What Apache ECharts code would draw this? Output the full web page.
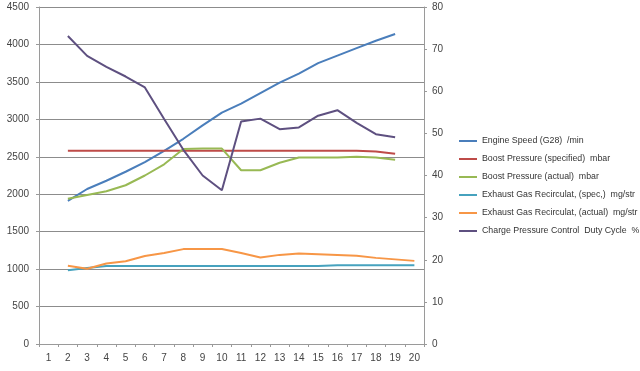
<!DOCTYPE html>
<html><head><meta charset="utf-8">
<script src="https://cdn.jsdelivr.net/npm/echarts@6/dist/echarts.min.js"></script>
<style>html,body{margin:0;padding:0;background:#fff}#c{width:640px;height:371px}</style>
</head><body><div id="c"></div>
<script>
const categories = ['1','2','3','4','5','6','7','8','9','10','11','12','13','14','15','16','17','18','19','20'];
const engineSpeed = [null,1910,2070,2180,2300,2430,2580,2740,2920,3090,3210,3350,3490,3610,3750,3850,3950,4050,4140,null];
const boostSpecified = [null,2580,2580,2580,2580,2580,2580,2580,2580,2580,2580,2580,2580,2580,2580,2580,2580,2570,2540,null];
const boostActual = [null,1940,1990,2040,2120,2250,2400,2605,2610,2610,2320,2320,2420,2490,2490,2490,2500,2490,2460,null];
const egrSpec = [null,985,1015,1040,1040,1040,1040,1040,1040,1040,1040,1040,1040,1040,1040,1050,1050,1050,1050,1050];
const egrActual = [null,1045,1005,1075,1105,1175,1215,1267,1268,1268,1215,1156,1190,1210,1200,1190,1178,1150,1130,1110];
const dutyCycle = [null,73.1,68.4,65.8,63.5,60.9,53.4,46.1,40.0,36.5,52.8,53.5,51.0,51.4,54.2,55.5,52.5,49.8,49.1,null];
const seriesNames = ['Engine Speed (G28)  /min','Boost Pressure (specified)  mbar','Boost Pressure (actual)  mbar','Exhaust Gas Recirculat, (spec,)  mg/str','Exhaust Gas Recirculat, (actual)  mg/str','Charge Pressure Control  Duty Cycle  %'];
const colors = ['#4A7EBB','#BE4B48','#98B954','#46A2BE','#F79646','#5E5080'];

const font = '"Liberation Sans",Arial,sans-serif';
const chart = echarts.init(document.getElementById('c'), null, {renderer:'canvas'});
const mk = (i, data, yIdx) => ({
  name: seriesNames[i], type:'line', data, yAxisIndex: yIdx, symbol:'none',
  lineStyle:{width:2, color: colors[i]}, itemStyle:{color: colors[i]}, connectNulls:false, animation:false
});
chart.setOption({
  animation:false,
  textStyle:{fontFamily:font},
  grid:{left:39, right:216, top:7, bottom:27, containLabel:false},
  legend:{
    orient:'vertical', left:459, top:135, padding:0, itemWidth:18, itemHeight:2, itemGap:6, icon:'rect',
    textStyle:{fontFamily:font, fontSize:8.8, color:'#333', lineHeight:12},
    data: seriesNames
  },
  xAxis:{
    type:'category', data:categories, boundaryGap:true,
    axisLine:{lineStyle:{color:'#9a9a9a'}},
    axisTick:{show:true, length:3, lineStyle:{color:'#9a9a9a'}},
    axisLabel:{color:'#444', fontSize:10, margin:9, fontFamily:font, interval:0}
  },
  yAxis:[
    {type:'value', min:0, max:4500, interval:500, position:'left',
     axisLine:{show:true, lineStyle:{color:'#9a9a9a'}},
     axisTick:{show:true, length:3, lineStyle:{color:'#9a9a9a'}},
     axisLabel:{color:'#444', fontSize:10, margin:10, fontFamily:font, formatter: v => String(v)},
     splitLine:{lineStyle:{color:'#8c8c8c', width:1}}},
    {type:'value', min:0, max:80, interval:10, position:'right',
     axisLine:{show:true, lineStyle:{color:'#9a9a9a'}},
     axisTick:{show:true, length:3, lineStyle:{color:'#9a9a9a'}},
     axisLabel:{color:'#444', fontSize:10, margin:8, fontFamily:font, formatter: v => String(v)},
     splitLine:{show:false}}
  ],
  series:[
    mk(0, engineSpeed, 0),
    mk(1, boostSpecified, 0),
    mk(2, boostActual, 0),
    mk(3, egrSpec, 0),
    mk(4, egrActual, 0),
    mk(5, dutyCycle, 1)
  ]
});
</script></body></html>
